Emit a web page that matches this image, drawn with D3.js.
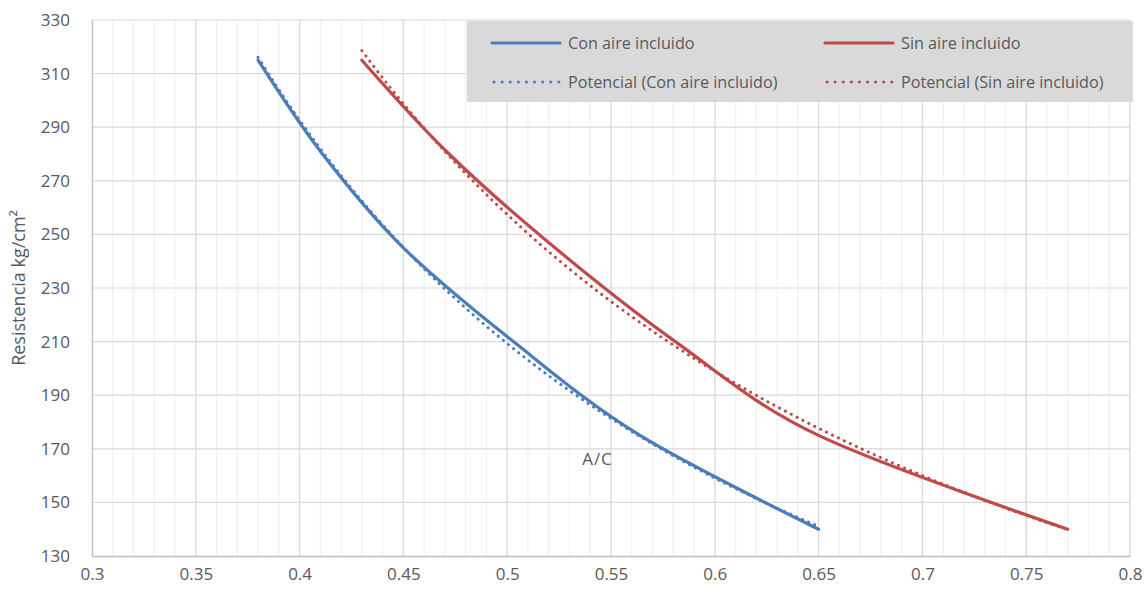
<!DOCTYPE html>
<html>
<head>
<meta charset="utf-8">
<script src="https://cdn.jsdelivr.net/npm/d3@7"></script>
<style>
  html, body { margin: 0; padding: 0; background: #fff; }
  svg { display: block; font-family: "Open Sans", sans-serif; }
</style>
</head>
<body>
<svg id="chart" width="1145" height="592"></svg>
<script>
// Resistencia (kg/cm²) frente a relación agua/cemento
const resistencia = [315, 280, 245, 210, 175, 140];
const acConAire = [0.38, 0.411, 0.45, 0.503, 0.564, 0.65];
const acSinAire = [0.43, 0.472, 0.523, 0.581, 0.65, 0.77];

const xTicks = [0.3, 0.35, 0.4, 0.45, 0.5, 0.55, 0.6, 0.65, 0.7, 0.75, 0.8];
const yTicks = [130, 150, 170, 190, 210, 230, 250, 270, 290, 310, 330];

const seriesNames = ["Con aire incluido", "Sin aire incluido"];
const trendNames = ["Potencial (Con aire incluido)", "Potencial (Sin aire incluido)"];
const colors = ["#4a7ebb", "#be4b48"];

const FONT = "'Open Sans', sans-serif";
const TICK_FS = 17;
const LEGEND_FS = 16.2;

const svg = d3.select("#chart");
const m = { left: 92, right: 1130, top: 20, bottom: 556 };

const x = d3.scaleLinear().domain([0.3, 0.8]).range([m.left, m.right]);
const y = d3.scaleLinear().domain([130, 330]).range([m.bottom, m.top]);

// minor vertical grid every 0.01
const minor = d3.range(0, 51).map(i => 0.3 + i * 0.01);
svg.append("g").selectAll("line").data(minor).join("line")
  .attr("x1", d => x(d)).attr("x2", d => x(d))
  .attr("y1", m.top).attr("y2", m.bottom)
  .attr("stroke", "#f0f0f0").attr("stroke-width", 1.2);

// major grid
svg.append("g").selectAll("line").data(xTicks.slice(1)).join("line")
  .attr("x1", d => x(d)).attr("x2", d => x(d))
  .attr("y1", m.top).attr("y2", m.bottom)
  .attr("stroke", "#d9d9d9").attr("stroke-width", 1.2);
svg.append("g").selectAll("line").data(yTicks.slice(1)).join("line")
  .attr("x1", m.left).attr("x2", m.right)
  .attr("y1", d => y(d)).attr("y2", d => y(d))
  .attr("stroke", "#d9d9d9").attr("stroke-width", 1.2);

// axes
const xAxis = svg.append("g").attr("transform", `translate(0,${m.bottom})`)
  .call(d3.axisBottom(x).tickValues(xTicks).tickSize(0).tickPadding(12)
    .tickFormat(d => String(+d.toFixed(2))));
const yAxis = svg.append("g").attr("transform", `translate(${m.left},0)`)
  .call(d3.axisLeft(y).tickValues(yTicks).tickSize(0).tickPadding(22));
[xAxis, yAxis].forEach(a => {
  a.select(".domain").attr("stroke", "#bfbfbf").attr("stroke-width", 1.3);
  a.selectAll("text").attr("fill", "#595959").attr("font-size", TICK_FS)
    .attr("font-family", FONT);
});

svg.append("text")
  .attr("transform", `translate(25,${288}) rotate(-90)`)
  .attr("text-anchor", "middle").attr("fill", "#595959").attr("font-size", 18)
  .text("Resistencia kg/cm²");

svg.append("text").attr("x", x(0.5435)).attr("y", y(164.0))
  .attr("text-anchor", "middle").attr("fill", "#595959").attr("font-size", 17)
  .attr("letter-spacing", 1)
  .text("A/C");

// power trendline y = a·x^b fitted on logs
function powerFit(xs, ys) {
  const lx = xs.map(Math.log), ly = ys.map(Math.log);
  const mx = d3.mean(lx), my = d3.mean(ly);
  const b = d3.sum(lx, (v, i) => (v - mx) * (ly[i] - my)) / d3.sum(lx, v => (v - mx) ** 2);
  const a = Math.exp(my - b * mx);
  return { a, b };
}

const line = d3.line().x(d => x(d[0])).y(d => y(d[1])).curve(d3.curveCardinal.tension(0));
const plot = svg.append("g");

[acConAire, acSinAire].forEach((xs, k) => {
  const pts = xs.map((v, i) => [v, resistencia[i]]);
  const fit = powerFit(xs, resistencia);
  const [x0, x1] = d3.extent(xs);
  const trend = d3.range(0, 101).map(i => {
    const xv = x0 + (x1 - x0) * i / 100;
    return [xv, fit.a * Math.pow(xv, fit.b)];
  });
  plot.append("path").datum(pts).attr("d", line)
    .attr("fill", "none").attr("stroke", colors[k]).attr("stroke-width", 3.2)
    .attr("stroke-linecap", "round");
  plot.append("path").datum(trend)
    .attr("d", d3.line().x(d => x(d[0])).y(d => y(d[1])))
    .attr("fill", "none").attr("stroke", colors[k]).attr("stroke-width", 3)
    .attr("stroke-linecap", "round").attr("stroke-dasharray", "0.1 6.5");
});

// legend
const lg = svg.append("g");
lg.append("rect").attr("x", 467).attr("y", 21).attr("width", 666).attr("height", 81)
  .attr("fill", "#d9d9d9");
const cols = [492, 825];
const rows = [43, 82];
[0, 1].forEach(k => {
  lg.append("line").attr("x1", cols[k]).attr("x2", cols[k] + 68)
    .attr("y1", rows[0]).attr("y2", rows[0])
    .attr("stroke", colors[k]).attr("stroke-width", 3.2).attr("stroke-linecap", "round");
  lg.append("text").attr("x", cols[k] + 76).attr("y", rows[0] + 6)
    .attr("fill", "#595959").attr("font-size", LEGEND_FS).text(seriesNames[k]);
  lg.append("line").attr("x1", cols[k] + 2).attr("x2", cols[k] + 68)
    .attr("y1", rows[1]).attr("y2", rows[1])
    .attr("stroke", colors[k]).attr("stroke-width", 3).attr("stroke-linecap", "round")
    .attr("stroke-dasharray", "0.1 8");
  lg.append("text").attr("x", cols[k] + 76).attr("y", rows[1] + 6)
    .attr("fill", "#595959").attr("font-size", LEGEND_FS).text(trendNames[k]);
});
</script>
</body>
</html>
